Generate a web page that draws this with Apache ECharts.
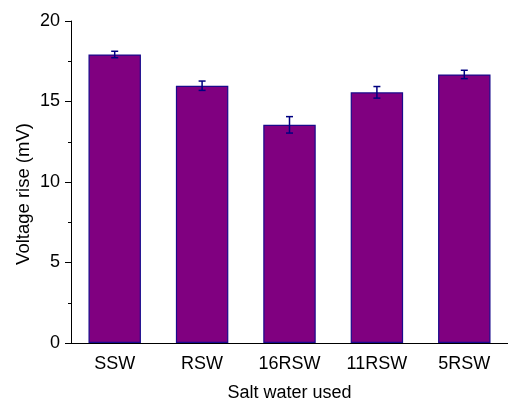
<!DOCTYPE html>
<html>
<head>
<meta charset="utf-8">
<script src="https://cdn.jsdelivr.net/npm/echarts@6/dist/echarts.min.js"></script>
<style>
  html, body { margin: 0; padding: 0; background: #fff; }
  #chart { width: 508px; height: 400px; }
</style>
</head>
<body>
<div id="chart"></div>
<script>
// Salt water samples and measured voltage rise (mV) with standard deviations
var categories = ['SSW', 'RSW', '16RSW', '11RSW', '5RSW'];
var voltageRise = [17.92, 15.98, 13.55, 15.57, 16.68];
var errors = [0.2, 0.29, 0.51, 0.36, 0.26];
var yTicks = [0, 5, 10, 15, 20];

var font = 'Liberation Sans, Arial, sans-serif';
var axisColor = '#000';

var chart = echarts.init(document.getElementById('chart'));

var errorData = voltageRise.map(function (v, i) {
  return [i, v - errors[i], v + errors[i]];
});

chart.setOption({
  animation: false,
  grid: { left: 71, right: 0, top: 21, bottom: 57, containLabel: false, outerBoundsMode: 'none' },
  xAxis: [
    {
      type: 'category',
      data: categories,
      name: 'Salt water used',
      nameLocation: 'middle',
      nameGap: 41,
      nameMoveOverlap: false,
      nameTextStyle: { fontFamily: font, fontSize: 18, color: '#000' },
      axisLine: { lineStyle: { color: axisColor, width: 1 } },
      axisTick: { alignWithLabel: true, length: 5, lineStyle: { color: axisColor } },
      axisLabel: { fontFamily: font, fontSize: 18, color: '#000', margin: 12 }
    },
    {
      // boundary ticks between categories
      type: 'category',
      data: categories,
      position: 'bottom',
      axisLine: { show: false },
      axisTick: { length: 3, lineStyle: { color: axisColor } },
      axisLabel: { show: false }
    }
  ],
  yAxis: {
    type: 'value',
    min: yTicks[0],
    max: yTicks[yTicks.length - 1],
    interval: 5,
    name: 'Voltage rise (mV)',
    nameLocation: 'middle',
    nameGap: 38,
    nameMoveOverlap: false,
    nameTextStyle: { fontFamily: font, fontSize: 18.5, color: '#000', padding: [0, 24, 0, 0] },
    axisLine: { show: true, lineStyle: { color: axisColor, width: 1 } },
    axisTick: { show: true, length: 6, lineStyle: { color: axisColor } },
    minorTick: { show: true, splitNumber: 2, length: 3, lineStyle: { color: axisColor } },
    splitLine: { show: false },
    axisLabel: { fontFamily: font, fontSize: 18, color: '#000', margin: 11 }
  },
  series: [
    {
      type: 'bar',
      data: voltageRise,
      barWidth: '60%',
      itemStyle: { color: '#800080', borderColor: '#1a0a8c', borderWidth: 1.2 }
    },
    {
      type: 'custom',
      data: errorData,
      z: 10,
      renderItem: function (params, api) {
        var x = api.coord([api.value(0), api.value(1)])[0];
        var lo = api.coord([api.value(0), api.value(1)])[1];
        var hi = api.coord([api.value(0), api.value(2)])[1];
        var w = 3.5;
        var style = { stroke: '#000080', lineWidth: 1.5 };
        return {
          type: 'group',
          children: [
            { type: 'line', shape: { x1: x, y1: hi, x2: x, y2: lo }, style: style },
            { type: 'line', shape: { x1: x - w, y1: hi, x2: x + w, y2: hi }, style: style },
            { type: 'line', shape: { x1: x - w, y1: lo, x2: x + w, y2: lo }, style: style }
          ]
        };
      }
    }
  ]
});
</script>
</body>
</html>
